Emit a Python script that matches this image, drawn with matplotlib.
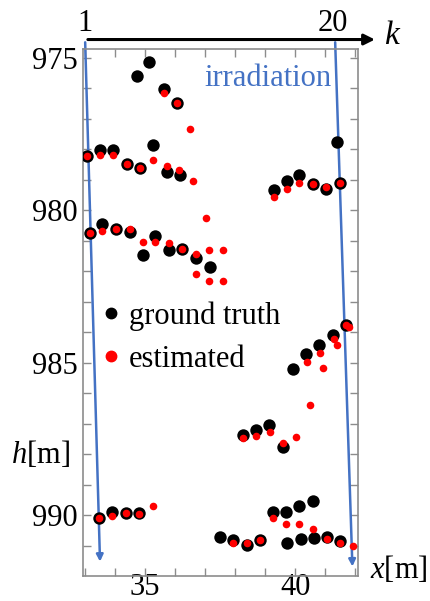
import matplotlib
matplotlib.use('Agg')
import matplotlib.pyplot as plt
from matplotlib.lines import Line2D

plt.rcParams['font.family'] = ['Liberation Serif', 'DejaVu Serif']
plt.rcParams['mathtext.fontset'] = 'custom'
plt.rcParams['mathtext.rm'] = 'Liberation Serif'
plt.rcParams['mathtext.it'] = 'Liberation Serif:italic'

# ground truth positions (x [m], h [m])
gt_x = [35.14, 34.74, 35.63, 36.07,
        33.06, 33.50, 33.92, 34.38, 34.82, 35.26, 35.72, 36.17,
        33.17, 33.58, 34.02, 34.48, 34.94, 35.34, 35.80, 36.24, 36.70, 37.17,
        39.28, 39.72, 40.13, 40.58, 41.03, 41.48, 41.41,
        39.94, 40.37, 40.81, 41.26, 41.69,
        38.26, 38.70, 39.13, 39.59,
        33.48, 33.91, 34.36, 34.80,
        37.50, 37.94, 38.39, 38.83, 39.26, 39.70, 40.12, 40.59,
        39.74, 40.18, 40.62, 41.07, 41.51]
gt_h = [975.15, 975.61, 976.01, 976.47,
        978.22, 978.04, 978.01, 978.47, 978.61, 977.85, 978.74, 978.85,
        980.76, 980.46, 980.60, 980.73, 981.48, 980.84, 981.29, 981.27, 981.58, 981.85,
        979.34, 979.03, 978.86, 979.15, 979.30, 979.11, 977.75,
        985.20, 984.72, 984.42, 984.09, 983.77,
        987.37, 987.20, 987.03, 987.78,
        990.11, 989.91, 989.94, 989.94,
        990.71, 990.82, 990.98, 990.82, 989.89, 989.89, 989.70, 989.54,
        990.93, 990.78, 990.76, 990.72, 990.85]

# estimated positions
est_x = [35.63, 36.07, 36.51,
         33.06, 33.50, 33.92, 34.38, 34.82, 35.26, 35.72, 36.13, 36.59,
         33.17, 33.58, 34.02, 34.48, 34.92, 35.34, 35.80, 36.24, 36.70, 36.70,
         37.13, 37.13, 37.58, 37.58, 37.03,
         39.28, 39.72, 40.13, 40.58, 41.03, 41.48,
         41.69, 41.81, 41.28, 41.39, 40.83, 40.94, 40.39, 40.48,
         38.26, 38.70, 39.17, 39.59, 40.03,
         33.48, 33.91, 34.36, 34.80, 35.26,
         37.94, 38.39, 38.83, 39.26, 39.70, 40.14, 40.59, 41.07, 41.51, 41.93]
est_h = [976.15, 976.47, 977.35,
         978.22, 978.19, 978.19, 978.47, 978.61, 978.34, 978.56, 978.67, 979.05,
         980.76, 980.68, 980.60, 980.61, 981.05, 981.03, 981.07, 981.27, 981.44, 982.08,
         981.32, 982.33, 981.31, 982.33, 980.25,
         979.56, 979.31, 979.12, 979.15, 979.24, 979.11,
         983.77, 983.83, 984.23, 984.43, 984.67, 985.18, 984.97, 986.38,
         987.48, 987.41, 987.28, 987.63, 987.43,
         990.11, 990.03, 989.94, 989.98, 989.70,
         990.93, 990.93, 990.82, 990.11, 990.30, 990.30, 990.45, 990.80, 990.91, 991.01]

x_ticks = [35, 40]
h_ticks = [975, 980, 985, 990]
k_first, k_last = 1, 20

BLUE = '#4472C4'
FS = 22

fig = plt.figure(figsize=(4.3, 6.01), dpi=100)
ax = fig.add_axes([0.193, 0.0416, 0.640, 0.8764])

ax.scatter(gt_x, gt_h, s=80, color='black', zorder=3, linewidths=0)
ax.scatter(est_x, est_h, s=30, color='red', zorder=4, linewidths=0)

ax.set_xlim(32.93, 42.1)
ax.set_ylim(992.0, 974.72)
ax.set_xticks(x_ticks)
ax.set_yticks(h_ticks)
ax.set_xticks(range(33, 43), minor=True)
ax.set_yticks(range(975, 992), minor=True)
ax.tick_params(which='both', direction='in', top=True, right=True,
               color='#8c8c8c', width=1.0)
ax.tick_params(which='major', length=6, labelsize=FS)
ax.tick_params(which='minor', length=6)
ax.tick_params(axis='x', pad=-2)
ax.tick_params(axis='y', pad=4)
for sp in ax.spines.values():
    sp.set_color('#8c8c8c')
    sp.set_linewidth(1.2)

# k axis on top
y_k = 974.40
ax.annotate('', xy=(42.75, y_k), xytext=(33.0, y_k),
            arrowprops=dict(arrowstyle='-|>', lw=2.2, color='black', mutation_scale=16),
            annotation_clip=False)
ax.text(33.0, 973.87, str(k_first), fontsize=FS, ha='center', va='center')
ax.text(41.27, 973.87, str(k_last), fontsize=FS, ha='center', va='center')
ax.text(43.25, 974.26, '$k$', fontsize=FS + 2, ha='center', va='center')

# irradiation lines
ax.annotate('', xy=(33.5, 991.62), xytext=(33.0, y_k),
            arrowprops=dict(arrowstyle='-|>', lw=1.8, color=BLUE, mutation_scale=10),
            annotation_clip=False, zorder=2)
ax.annotate('', xy=(41.91, 991.78), xytext=(41.33, y_k),
            arrowprops=dict(arrowstyle='-|>', lw=1.8, color=BLUE, mutation_scale=10),
            annotation_clip=False, zorder=2)
ax.text(39.1, 975.67, 'irradiation', fontsize=FS, color=BLUE, ha='center', va='center')

ax.text(31.53, 988.03, '$h$[m]', fontsize=FS, ha='center', va='center')
ax.text(43.47, 991.80, '$x$[m]', fontsize=FS, ha='center', va='center')

handles = [Line2D([], [], marker='o', ls='none', color='black', markersize=7.5),
           Line2D([], [], marker='o', ls='none', color='red', markersize=7.5)]
ax.legend(handles, ['ground truth', 'estimated'], loc='upper left',
          bbox_to_anchor=(-0.01, 0.55), frameon=False, fontsize=FS,
          handletextpad=0.1, labelspacing=0.45, handlelength=1.0, borderpad=0)

fig.savefig('out.png', dpi=100)
